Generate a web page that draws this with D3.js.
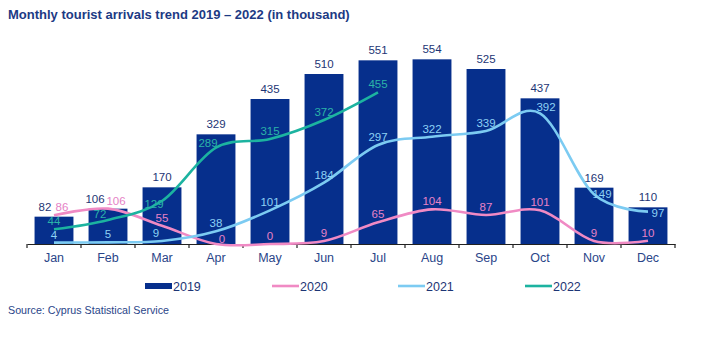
<!DOCTYPE html>
<html>
<head>
<meta charset="utf-8">
<script src="https://cdn.jsdelivr.net/npm/d3@7"></script>
<style>
  html, body { margin: 0; padding: 0; background: #fff; }
  svg { display: block; font-family: "Liberation Sans", Arial, sans-serif; }
</style>
</head>
<body>
<svg id="chart" width="710" height="351"></svg>
<script>
const months = ["Jan","Feb","Mar","Apr","May","Jun","Jul","Aug","Sep","Oct","Nov","Dec"];
const arrivals2019 = [82,106,170,329,435,510,551,554,525,437,169,110];
const arrivals2020 = [86,106,55,0,0,9,65,104,87,101,9,10];
const arrivals2021 = [4,5,9,38,101,184,297,322,339,392,149,97];
const arrivals2022 = [44,72,129,289,315,372,455];
const seriesNames = ["2019","2020","2021","2022"];

const colors = {
  bar: "#062f8c",
  l2020: "#f08ac4",
  l2021: "#7ccbf2",
  l2022: "#1cb3a0",
  lab2019: "#1d3575",
  lab2020: "#e682c6",
  lab2021: "#8dd2f5",
  lab2022: "#2bb3a8",
  text: "#2a4589",
  title: "#1c3a84"
};

// label nudges (in code, not data) to mimic manual placement in reference
const nudge = {
  "2019": {0: [-9, 0], 1: [-13, 0]},
  "2020": {0: [8, 0], 1: [8, 0], 3: [6, 3]},
  "2021": {2: [-6, 0], 9: [6, 2], 10: [8, 8], 11: [10, 9]},
  "2022": {1: [-8, 2], 2: [-8, 11], 3: [-8, 3]}
};

const svg = d3.select("#chart");

const x = d3.scaleBand().domain(months).range([27, 675]).paddingInner(0.28).paddingOuter(0.14);
const y = d3.scaleLinear().domain([0, 600]).range([244, 44]);
const cx = m => x(m) + x.bandwidth() / 2;

// title
svg.append("text").attr("x", 8).attr("y", 19)
  .attr("font-size", 13).attr("font-weight", "bold").attr("fill", colors.title)
  .text("Monthly tourist arrivals trend 2019 \u2013 2022 (in thousand)");

// bars
svg.append("g").selectAll("rect").data(arrivals2019).join("rect")
  .attr("x", (d, i) => x(months[i]))
  .attr("y", d => y(d))
  .attr("width", x.bandwidth())
  .attr("height", d => y(0) - y(d))
  .attr("fill", colors.bar);

// axis
const axis = d3.axisBottom(x).tickSize(0).tickPadding(9);
const gx = svg.append("g").attr("transform", `translate(0,${y(0)})`).call(axis);
gx.select(".domain").attr("stroke", "#222").attr("stroke-width", 1.2);
gx.selectAll("text").attr("font-size", 12.5).attr("fill", colors.text).attr("font-family", "Liberation Sans, Arial, sans-serif");
const edges = d3.range(months.length + 1).map(i => 27 + i * (648 / months.length));
gx.selectAll(".edge").data(edges).join("line").attr("class", "edge")
  .attr("x1", d => d).attr("x2", d => d).attr("y1", 0).attr("y2", 4)
  .attr("stroke", "#222").attr("stroke-width", 1.2);

// lines
const line = d3.line().x((d, i) => cx(months[i])).y(d => y(d)).curve(d3.curveCardinal.tension(0));
const lineSeries = [
  {name: "2020", vals: arrivals2020, color: colors.l2020, lab: colors.lab2020},
  {name: "2021", vals: arrivals2021, color: colors.l2021, lab: colors.lab2021},
  {name: "2022", vals: arrivals2022, color: colors.l2022, lab: colors.lab2022}
];
lineSeries.forEach(s => {
  svg.append("path").datum(s.vals).attr("d", line)
    .attr("fill", "none").attr("stroke", s.color).attr("stroke-width", 2.6);
});

// labels
function addLabels(name, vals, color, baseOff) {
  svg.append("g").selectAll("text").data(vals).join("text")
    .attr("x", (d, i) => cx(months[i]) + ((nudge[name][i] || [0, 0])[0]))
    .attr("y", (d, i) => y(d) - baseOff + ((nudge[name][i] || [0, 0])[1]))
    .attr("text-anchor", "middle").attr("font-size", 11.5).attr("fill", color)
    .text(d => d);
}
addLabels("2019", arrivals2019, colors.lab2019, 6);
lineSeries.forEach(s => addLabels(s.name, s.vals, s.lab, 4));

// legend
const leg = svg.append("g");
const legY = 286;
const legX = [145, 272, 398, 525];
leg.append("rect").attr("x", legX[0]).attr("y", legY - 3).attr("width", 27).attr("height", 6).attr("fill", colors.bar);
[colors.l2020, colors.l2021, colors.l2022].forEach((c, i) => {
  leg.append("line").attr("x1", legX[i + 1]).attr("x2", legX[i + 1] + 27)
    .attr("y1", legY).attr("y2", legY).attr("stroke", c).attr("stroke-width", 2.6);
});
seriesNames.forEach((n, i) => {
  leg.append("text").attr("x", legX[i] + 28).attr("y", legY + 4.5)
    .attr("font-size", 12.5).attr("fill", colors.lab2019).text(n);
});

// source
svg.append("text").attr("x", 8).attr("y", 314).attr("font-size", 10.7)
  .attr("fill", colors.text).text("Source: Cyprus Statistical Service");
</script>
</body>
</html>
